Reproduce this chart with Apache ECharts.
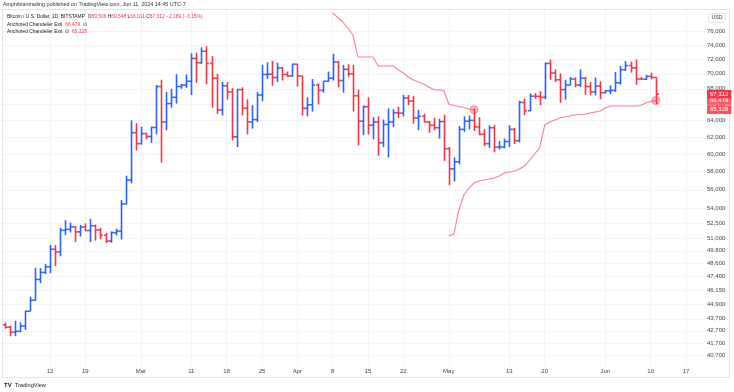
<!DOCTYPE html>
<html><head><meta charset="utf-8">
<script src="https://cdn.jsdelivr.net/npm/echarts@6/dist/echarts.min.js"></script>
<style>html,body{margin:0;padding:0;background:#fff}#c{width:734px;height:392px}</style>
</head><body><div id="c"></div><script>
const dates = [
'2024-02-03','2024-02-04','2024-02-05','2024-02-06','2024-02-07','2024-02-08','2024-02-09','2024-02-10','2024-02-11','2024-02-12','2024-02-13','2024-02-14','2024-02-15','2024-02-16','2024-02-17','2024-02-18','2024-02-19','2024-02-20','2024-02-21','2024-02-22','2024-02-23','2024-02-24','2024-02-25','2024-02-26','2024-02-27','2024-02-28','2024-02-29',
'2024-03-01','2024-03-02','2024-03-03','2024-03-04','2024-03-05','2024-03-06','2024-03-07','2024-03-08','2024-03-09','2024-03-10','2024-03-11','2024-03-12','2024-03-13','2024-03-14','2024-03-15','2024-03-16','2024-03-17','2024-03-18','2024-03-19','2024-03-20','2024-03-21','2024-03-22','2024-03-23','2024-03-24','2024-03-25','2024-03-26','2024-03-27','2024-03-28','2024-03-29','2024-03-30','2024-03-31',
'2024-04-01','2024-04-02','2024-04-03','2024-04-04','2024-04-05','2024-04-06','2024-04-07','2024-04-08','2024-04-09','2024-04-10','2024-04-11','2024-04-12','2024-04-13','2024-04-14','2024-04-15','2024-04-16','2024-04-17','2024-04-18','2024-04-19','2024-04-20','2024-04-21','2024-04-22','2024-04-23','2024-04-24','2024-04-25','2024-04-26','2024-04-27','2024-04-28','2024-04-29','2024-04-30',
'2024-05-01','2024-05-02','2024-05-03','2024-05-04','2024-05-05','2024-05-06','2024-05-07','2024-05-08','2024-05-09','2024-05-10','2024-05-11','2024-05-12','2024-05-13','2024-05-14','2024-05-15','2024-05-16','2024-05-17','2024-05-18','2024-05-19','2024-05-20','2024-05-21','2024-05-22','2024-05-23','2024-05-24','2024-05-25','2024-05-26','2024-05-27','2024-05-28','2024-05-29','2024-05-30','2024-05-31',
'2024-06-01','2024-06-02','2024-06-03','2024-06-04','2024-06-05','2024-06-06','2024-06-07','2024-06-08','2024-06-09','2024-06-10','2024-06-11'];
const opens = [
43190,43000,42580,42660,43090,44340,45290,47130,47770,48290,49950,49700,51800,51900,52150,51650,52120,51780,52260,51850,51300,50740,51570,51730,54500,57050,62500,
61200,62400,62050,63130,68300,63800,66100,66900,68300,68500,69000,72100,71500,73100,71400,69400,65300,68400,67600,62000,67900,65500,63800,64100,67200,69900,69950,69500,70800,69900,69700,
71300,69700,65500,65950,68500,67800,69000,69400,71600,69100,70600,70000,67100,63900,65700,63400,63800,61300,63500,63800,64950,64900,66800,66400,64300,64500,63800,63400,63100,63850,
60600,58300,59100,62900,63900,64000,63200,62300,61200,63100,60800,60800,61450,62900,61550,66250,65200,67050,67030,66900,71400,70100,69200,67900,68500,69300,68500,69400,68300,67600,68350,
67500,67750,67800,68800,70550,71100,70800,69300,69280,69650,69506];
const highs = [
43380,43120,43530,43400,44370,45600,48200,48170,48570,50350,50370,52060,52820,52580,52200,52350,52500,52960,52380,52040,51540,51700,51960,54900,57550,64000,63650,
63200,62450,63230,68500,69200,67600,68000,69950,68650,69900,72800,72900,73650,73800,72400,70000,68900,68900,68100,68000,68200,66650,65900,67600,71200,71550,71750,71500,70900,70300,71350,
71350,69700,66900,69300,68700,69000,70300,72750,71750,71200,71300,71200,67900,65850,66900,64400,64500,64100,65500,65400,65700,67200,67200,67100,65300,64800,63900,64300,64200,64700,
60800,59600,63300,64500,64600,65500,64400,62950,63400,63450,61500,61800,63400,63100,66450,66750,67400,67450,67700,71500,71950,70600,70050,69200,69550,69500,70600,69550,68900,69500,69000,
67850,68450,70250,71050,71750,71650,71950,69550,69850,70150,69548];
const lows = [
42880,42250,42260,42580,42770,44330,45250,46810,47630,47700,48340,49280,51330,51600,50650,51180,51720,50650,50800,50930,50540,50580,51300,50900,54450,56700,60400,
61100,61700,61300,62300,59000,62800,65600,66100,68000,68100,67200,68800,71350,68600,65600,64800,64600,66600,61600,60800,64600,62300,63000,63800,66400,69300,68400,68900,69100,69600,69600,
68300,64600,64500,65100,66000,67500,68900,69100,68200,67500,69600,65100,61000,62200,62300,61700,59800,60800,59600,63200,64300,64500,65900,63600,62800,63800,62500,62800,61800,59200,
56500,56900,58800,62600,62900,62700,62200,60900,60700,60200,60500,60650,60800,61150,61350,64650,65150,66700,65900,66650,69200,68900,66200,66600,68500,68200,68250,67250,67150,67150,66650,
67400,67300,67600,68550,70400,70150,68500,69200,69150,69250,66011];
const closes = [
43000,42580,42660,43090,44340,45290,47130,47770,48290,49950,49700,51800,51900,52150,51650,52120,51780,52260,51850,51300,50740,51570,51730,54500,57050,62500,61200,
62400,62050,63130,68300,63800,66100,66900,68300,68500,69000,72100,71500,73100,71400,69400,65300,68400,67600,62000,67900,65500,63800,64100,67200,69900,69950,69500,70800,69900,69700,71300,
69700,65500,65950,68500,67800,69000,69400,71600,69100,70600,70000,67100,63900,65700,63400,63800,61300,63500,63800,64950,64900,66800,66400,64300,64500,63800,63400,63100,63850,60600,
58300,59100,62900,63900,64000,63200,62300,61200,63100,60800,60800,61450,62900,61550,66250,65200,67050,67030,66900,71400,70100,69200,67900,68500,69300,68500,69400,68300,67600,68350,67500,
67750,67800,68800,70550,71100,70800,69300,69280,69650,69506,67312];

// Anchored Chandelier Exit (short stop, anchored Apr 8)
const exitShortDates = ['2024-04-08','2024-04-09','2024-04-10','2024-04-11','2024-04-12','2024-04-13','2024-04-14','2024-04-15','2024-04-16','2024-04-17','2024-04-18','2024-04-19','2024-04-20','2024-04-21','2024-04-22','2024-04-23','2024-04-24','2024-04-25','2024-04-26','2024-04-27','2024-04-28','2024-04-29','2024-04-30','2024-05-01','2024-05-02','2024-05-03','2024-05-04','2024-05-05','2024-05-06'];
const exitShortValues = [78680,78000,77330,76440,75420,72290,72290,72290,72290,71050,71050,71050,71050,70510,70100,69570,69170,68900,68640,68240,67910,67850,67780,66050,65860,65730,65600,65410,65328];
// Anchored Chandelier Exit (long stop, anchored May 1)
const exitLongDates = ['2024-05-01','2024-05-02','2024-05-03','2024-05-04','2024-05-05','2024-05-06','2024-05-07','2024-05-08','2024-05-09','2024-05-10','2024-05-11','2024-05-12','2024-05-13','2024-05-14','2024-05-15','2024-05-16','2024-05-17','2024-05-18','2024-05-19','2024-05-20','2024-05-21','2024-05-22','2024-05-23','2024-05-24','2024-05-25','2024-05-26','2024-05-27','2024-05-28','2024-05-29','2024-05-30','2024-05-31','2024-06-01','2024-06-02','2024-06-03','2024-06-04','2024-06-05','2024-06-06','2024-06-07','2024-06-08','2024-06-09','2024-06-10','2024-06-11'];
const exitLongValues = [51240,51440,53870,55440,56190,56740,56950,57070,57180,57290,57510,57840,57950,58060,58280,58620,59300,59990,60690,63430,63800,64040,64290,64420,64540,64660,64730,64750,64910,65040,65160,65540,65790,65790,65790,65790,65790,65790,65860,66170,66370,66479];

const xTickDates = ['2024-02-12','2024-02-19','2024-03-01','2024-03-11','2024-03-18','2024-03-25','2024-04-01','2024-04-08','2024-04-15','2024-04-22','2024-05-01','2024-05-13','2024-05-20','2024-06-01','2024-06-10','2024-06-17'];
const xTickLabels = ['12','19','Mar','11','18','25','Apr','8','15','22','May','13','20','Jun','10','17'];
const yTicks = [40700,41700,42700,43700,44900,46150,47400,48600,49800,51000,52500,54000,56000,58000,60000,62000,64000,66000,68000,70000,72000,74000,76000];

const FONT = 'Liberation Sans';
const UP = '#2962FF', DOWN = '#F23645', EXIT = 'rgba(242,54,69,0.62)';
const ts = s => Date.parse(s + 'T00:00:00Z');
const DAY = 86400000;
const ref = ts('2024-02-12');
const fmt = v => Math.round(v).toLocaleString('en-US');
const xTickTs = xTickDates.map(ts);

const ohlc = dates.map((d, i) => [ts(d), opens[i], highs[i], lows[i], closes[i]]);
const shortLine = exitShortDates.map((d, i) => [ts(d), exitShortValues[i]]);
const longLine = exitLongDates.map((d, i) => [ts(d), exitLongValues[i]]);
const last = closes.length - 1;

const LF = 4.9;
const richStyles = {
  d: {fontSize: LF, fill: '#131722', fontFamily: FONT},
  r: {fontSize: LF, fill: '#F23645', fontFamily: FONT}
};

const chart = echarts.init(document.getElementById('c'), null, {renderer: 'canvas'});
chart.setOption({
  animation: false,
  backgroundColor: '#ffffff',
  textStyle: {fontFamily: FONT},
  grid: {left: 3, right: 30, top: 10, bottom: 27, containLabel: false},
  xAxis: {
    type: 'value',
    min: ref - 9.311 * DAY,
    max: ref + 129.56 * DAY,
    axisLine: {show: false},
    axisTick: {show: false, customValues: xTickTs},
    axisLabel: {
      customValues: xTickTs, fontSize: 6, color: '#444', margin: 3, fontFamily: FONT,
      formatter: v => { const k = xTickTs.indexOf(v); return k >= 0 ? xTickLabels[k] : ''; }
    },
    splitLine: {show: true, lineStyle: {color: '#F2F4F9', width: 1}}
  },
  yAxis: {
    type: 'log',
    position: 'right',
    min: 39982,
    max: 79132,
    axisLine: {show: false},
    axisTick: {show: false, customValues: yTicks},
    axisLabel: {customValues: yTicks, fontSize: 6, color: '#444', margin: 3, fontFamily: FONT, formatter: v => fmt(v)},
    splitLine: {show: true, lineStyle: {color: '#F2F4F9', width: 1}}
  },
  series: [
    {
      type: 'custom',
      name: 'BTCUSD',
      data: ohlc,
      encode: {x: 0, y: [1, 2, 3, 4]},
      clip: true,
      renderItem: (params, api) => {
        const x = api.value(0), o = api.value(1), h = api.value(2), l = api.value(3), c = api.value(4);
        const pH = api.coord([x, h]), pL = api.coord([x, l]);
        const pO = api.coord([x, o]), pC = api.coord([x, c]);
        const px = Math.round(pH[0]) + 0.5;
        const color = c >= o ? UP : DOWN;
        const st = {stroke: color, lineWidth: 1.6};
        return {type: 'group', children: [
          {type: 'line', shape: {x1: px, y1: pH[1], x2: px, y2: pL[1]}, style: st},
          {type: 'line', shape: {x1: px - 2.4, y1: pO[1], x2: px, y2: pO[1]}, style: st},
          {type: 'line', shape: {x1: px, y1: pC[1], x2: px + 2.4, y2: pC[1]}, style: st}
        ]};
      },
      z: 3
    },
    {
      type: 'line', name: 'Exit short', data: shortLine, symbol: 'none',
      lineStyle: {color: EXIT, width: 1.1}, z: 2
    },
    {
      type: 'line', name: 'Exit long', data: longLine, symbol: 'none',
      lineStyle: {color: EXIT, width: 1.1}, z: 2,
      markLine: {
        silent: true, symbol: ['none', 'none'], animation: false,
        lineStyle: {color: 'rgba(0,0,0,0)', width: 0},
        label: {show: true, position: 'end', distance: 3, color: '#fff', fontSize: 6, fontFamily: FONT, padding: [1.5, 3, 1, 3]},
        data: [
          {yAxis: exitShortValues[exitShortValues.length - 1], label: {formatter: fmt(exitShortValues[exitShortValues.length - 1]), backgroundColor: '#F5525D'}},
          {yAxis: exitLongValues[exitLongValues.length - 1], label: {formatter: fmt(exitLongValues[exitLongValues.length - 1]), backgroundColor: '#F5606A'}},
          {yAxis: closes[last], label: {formatter: fmt(closes[last]), backgroundColor: '#F23645'}}
        ]
      }
    },
    {
      type: 'scatter', name: 'dots', symbol: 'circle', symbolSize: 8,
      data: [shortLine[shortLine.length - 1], longLine[longLine.length - 1]],
      itemStyle: {color: 'rgba(242,54,69,0.42)', borderColor: 'rgba(242,54,69,0.55)', borderWidth: 1},
      z: 4
    }
  ],
  graphic: [
    {type: 'rect', shape: {x: 2.5, y: 9.5, width: 727, height: 368}, style: {fill: 'none', stroke: '#E0E3EB', lineWidth: 1}, silent: true, z: 0},
    {type: 'text', x: 3, y: 5, z: 10, style: {text: 'Amphibiantrading published on TradingView.com, Jun 11, 2024 14:45 UTC-7', fontSize: 5.4, fill: '#333', fontFamily: FONT, verticalAlign: 'middle'}},
    {type: 'text', x: 7, y: 16.5, z: 10, style: {
      text: '{d|Bitcoin / U.S. Dollar, 1D, BITSTAMP  O}{r|69,506}{d| H}{r|69,548}{d| L}{r|66,011}{d| C}{r|67,312}{r| \u22122,189 (\u22123.15%)}',
      rich: richStyles, verticalAlign: 'middle'
    }},
    {type: 'text', x: 7, y: 24.2, z: 10, style: {
      text: '{d|Anchored Chandelier Exit  }{r|66,479}{d|  \u2205}',
      rich: richStyles, verticalAlign: 'middle'
    }},
    {type: 'text', x: 7, y: 31.8, z: 10, style: {
      text: '{d|Anchored Chandelier Exit  \u2205  }{r|65,328}',
      rich: richStyles, verticalAlign: 'middle'
    }},
    {type: 'rect', shape: {x: 708.5, y: 13.5, width: 17, height: 9, r: 2}, style: {fill: '#fff', stroke: '#E0E3EB', lineWidth: 1}},
    {type: 'text', x: 717, y: 18, style: {text: 'USD', fontSize: 5.2, fill: '#333', fontFamily: FONT, align: 'center', verticalAlign: 'middle'}},
    {type: 'text', x: 4, y: 385, style: {text: '{b|TV} {t|TradingView}', verticalAlign: 'middle', rich: {b: {fontSize: 6, fontWeight: 'bold', fill: '#131722', fontFamily: FONT}, t: {fontSize: 5.6, fill: '#131722', fontFamily: FONT}}}}
  ]
});
</script></body></html>
